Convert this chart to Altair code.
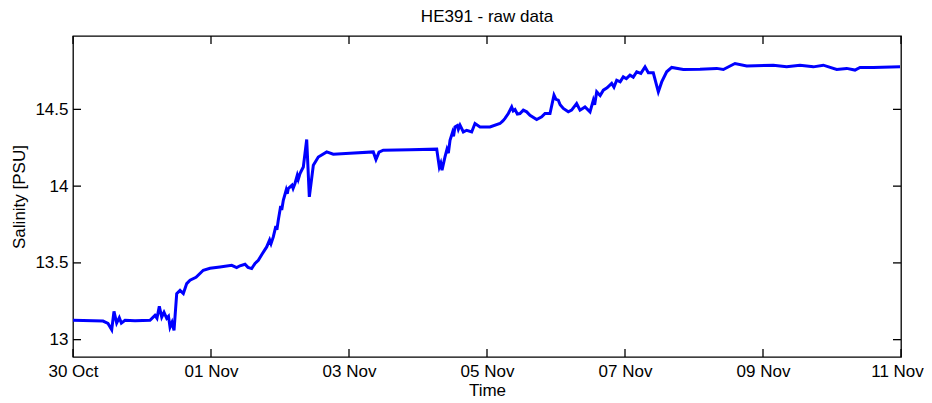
import altair as alt
import pandas as pd

# days since 30 Oct 00:00 (UTC) and salinity [PSU]
days = [0.000, 0.435, 0.507, 0.561, 0.594, 0.633, 0.671, 0.701, 0.754, 0.899,
        1.116, 1.188, 1.217, 1.251, 1.286, 1.319, 1.358, 1.384, 1.406, 1.435,
        1.464, 1.503, 1.551, 1.599, 1.648, 1.696, 1.783, 1.888, 1.986, 2.130,
        2.300, 2.372, 2.420, 2.493, 2.536, 2.590, 2.638, 2.686, 2.739, 2.807,
        2.850, 2.870, 2.903, 2.940, 2.955, 2.975, 3.010, 3.025, 3.048, 3.090,
        3.105, 3.120, 3.174, 3.190, 3.217, 3.250, 3.265, 3.290, 3.310, 3.338,
        3.387, 3.425,
        3.483, 3.555, 3.677, 3.772, 4.014, 4.352, 4.391, 4.435, 4.497, 4.884,
        5.271, 5.309, 5.330, 5.348, 5.391, 5.420, 5.440, 5.464, 5.500, 5.515,
        5.536, 5.570, 5.585, 5.609, 5.657, 5.706, 5.778,
        5.826, 5.899, 6.043, 6.188, 6.230, 6.261, 6.309, 6.358, 6.380, 6.406,
        6.440, 6.478, 6.526, 6.575, 6.623, 6.720, 6.793, 6.841, 6.913, 6.971,
        7.000, 7.033, 7.060, 7.106, 7.178, 7.226, 7.299, 7.348, 7.420, 7.493,
        7.541, 7.560, 7.590, 7.640, 7.686, 7.740, 7.807, 7.840, 7.880, 7.930,
        7.975, 8.020, 8.072, 8.120, 8.170, 8.230, 8.290, 8.338, 8.410, 8.483,
        8.532, 8.604, 8.677,
        8.845, 9.087, 9.329, 9.425, 9.594, 9.764, 10.149, 10.343, 10.536, 10.729,
        10.874, 11.068, 11.213, 11.333, 11.406, 11.599, 11.986]
salinity = [13.126, 13.121, 13.106, 13.065, 13.184, 13.108, 13.143, 13.108, 13.126, 13.123,
            13.126, 13.158, 13.139, 13.217, 13.147, 13.178, 13.139, 13.152, 13.082, 13.113,
            13.061, 13.300, 13.321, 13.300, 13.365, 13.387, 13.406, 13.452, 13.465, 13.473,
            13.484, 13.469, 13.481, 13.491, 13.471, 13.463, 13.497, 13.517, 13.556, 13.604,
            13.650, 13.625, 13.669, 13.740, 13.715, 13.778, 13.870, 13.845, 13.908, 13.975,
            13.950, 13.984, 14.006, 13.985, 14.017, 14.070, 14.045, 14.082, 14.100, 14.125,
            14.304, 13.930,
            14.136, 14.190, 14.223, 14.208, 14.214, 14.223, 14.173, 14.221, 14.234, 14.237,
            14.241, 14.125, 14.150, 14.104, 14.190, 14.240, 14.215, 14.299, 14.350, 14.325,
            14.386, 14.395, 14.370, 14.397, 14.353, 14.364, 14.353,
            14.408, 14.386, 14.386, 14.408, 14.425, 14.441, 14.473, 14.516, 14.490, 14.499,
            14.470, 14.473, 14.495, 14.484, 14.462, 14.434, 14.451, 14.473, 14.473, 14.593,
            14.565, 14.560, 14.530, 14.506, 14.484, 14.495, 14.538, 14.495, 14.516, 14.484,
            14.560, 14.530, 14.614, 14.590, 14.625, 14.640, 14.669, 14.645, 14.690, 14.680,
            14.712, 14.700, 14.723, 14.710, 14.745, 14.735, 14.777, 14.738, 14.738, 14.614,
            14.679, 14.745, 14.773,
            14.760, 14.762, 14.767, 14.760, 14.799, 14.782, 14.788, 14.777, 14.788, 14.777,
            14.788, 14.760, 14.767, 14.756, 14.773, 14.773, 14.777]

start = pd.Timestamp("2012-10-30T00:00:00Z")
x_tick_days = [0, 2, 4, 6, 8, 10, 12]
y_ticks = [13, 13.5, 14, 14.5]
y_domain = [12.887, 14.978]

def ms(d):
    return int((start + pd.Timedelta(days=d)).value // 1_000_000)

df = pd.DataFrame({"time": [ms(d) for d in days], "salinity": salinity})
xt = pd.DataFrame({"time": [ms(d) for d in x_tick_days]})
yt = pd.DataFrame({"salinity": y_ticks})

W, H = 828, 321
FONT = "Liberation Sans"
FS = 17
TL = 8
last_tick = ms(x_tick_days[-1])

xscale = alt.Scale(type="utc", domain=[ms(0), ms(12)], nice=False)
yscale = alt.Scale(domain=y_domain, nice=False, zero=False)

line = alt.Chart(df).mark_line(color="#0000ff", strokeWidth=3, clip=True).encode(
    x=alt.X("time:T", scale=xscale, title="Time",
            axis=alt.Axis(values=[ms(d) for d in x_tick_days], format="%d %b",
                          tickSize=0, labelPadding=6, titlePadding=3, domain=False,
                          grid=False, labelFlush=False,
                          labelOffset={"condition": {"test": f"datum.value >= {last_tick}",
                                                     "value": -4}, "value": 0})),
    y=alt.Y("salinity:Q", scale=yscale, title="Salinity [PSU]",
            axis=alt.Axis(values=y_ticks, format="~g", tickSize=0, labelPadding=5,
                          titlePadding=6, domain=False, grid=False)),
)

xb = alt.Chart(xt).mark_rule(color="black", strokeWidth=1.3).encode(
    x=alt.X("time:T", scale=xscale), y=alt.value(H), y2=alt.value(H - TL))
xtop = alt.Chart(xt).mark_rule(color="black", strokeWidth=1.3).encode(
    x=alt.X("time:T", scale=xscale), y=alt.value(0), y2=alt.value(TL))
yl = alt.Chart(yt).mark_rule(color="black", strokeWidth=1.3).encode(
    y=alt.Y("salinity:Q", scale=yscale), x=alt.value(0), x2=alt.value(TL))
yr = alt.Chart(yt).mark_rule(color="black", strokeWidth=1.3).encode(
    y=alt.Y("salinity:Q", scale=yscale), x=alt.value(W), x2=alt.value(W - TL))

chart = alt.layer(line, xb, xtop, yl, yr).properties(
    width=W, height=H,
    title=alt.TitleParams("HE391 - raw data", font=FONT, fontSize=FS,
                          fontWeight="normal", offset=9, color="black"),
    autosize="none",
    padding={"left": 65, "top": 28, "right": 23, "bottom": 44},
    background="white",
).configure_view(stroke="black", strokeWidth=1.3).configure_axis(
    labelFont=FONT, titleFont=FONT, labelFontSize=FS, titleFontSize=FS,
    labelColor="black", titleColor="black", titleFontWeight="normal",
)

chart.save("out.html", embed_options={"renderer": "svg", "actions": False})
